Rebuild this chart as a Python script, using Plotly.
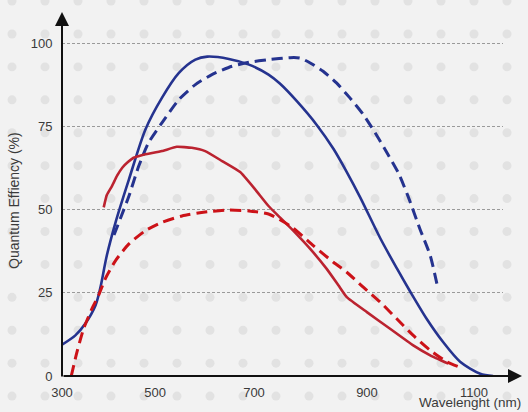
import plotly.graph_objects as go

# ---------------- data ----------------
blue_solid_x = [300, 326, 345, 365, 374, 387, 404, 430, 462, 494, 527, 559, 582, 624, 663, 701,
                723, 756, 795, 827, 853, 879, 918, 950, 976, 1008, 1040, 1073, 1112, 1137]
blue_solid_y = [9.4, 12.2, 15.7, 21.2, 26.2, 36.2, 46.2, 59.1, 74.1, 83.6, 91.1, 95.1, 96.0, 95.3, 93.6, 90.6,
                87.9, 82.6, 75.4, 68.3, 61.3, 53.7, 41.4, 32.4, 25.4, 17.2, 10.2, 4.3, 0.7, 0.0]

blue_dash_x = [401, 413, 430, 449, 468, 494, 527, 559, 591, 630, 663, 701, 743, 762, 782, 807,
               833, 859, 885, 908, 931, 953, 972, 995, 1015, 1028]
blue_dash_y = [42.4, 47.2, 54.1, 63.1, 70.1, 76.1, 83.1, 87.6, 90.6, 93.1, 94.3, 95.1, 95.7, 95.6, 94.1, 91.6,
               88.1, 83.6, 78.6, 73.1, 67.1, 61.1, 54.0, 44.2, 36.2, 27.7]

red_solid_x = [381, 387, 397, 407, 417, 428, 439, 453, 468, 494, 523, 552, 578, 611, 646, 675, 701, 723,
               749, 782, 814, 837, 853, 892, 937, 982, 1015, 1050]
red_solid_y = [50.7, 54.4, 57.1, 60.2, 62.6, 64.3, 65.6, 66.3, 66.8, 67.6, 68.9, 68.6, 67.6, 64.6, 61.3,
               56.1, 51.1, 47.7, 43.7, 38.2, 32.2, 27.2, 23.7, 19.2, 14.2, 9.2, 6.2, 3.7]

red_dash_x = [318, 329, 342, 358, 371, 384, 404, 430, 462, 494, 533, 578, 624, 663, 701, 747,
              788, 827, 853, 885, 918, 950, 982, 1015, 1047, 1070]
red_dash_y = [0.0, 7.2, 14.2, 20.2, 24.2, 29.2, 34.7, 39.7, 43.7, 46.2, 48.1, 49.3, 49.9, 49.6, 48.7, 44.7,
              39.2, 34.2, 31.2, 26.7, 22.2, 17.2, 12.2, 7.7, 4.3, 2.8]

x_tick_labels = ["300", "500", "700", "900", "1100"]
x_tick_positions = [300, 480.6, 672.8, 892.2, 1100]
y_tick_values = [0, 25, 50, 75, 100]

x_title = "Wavelenght (nm)"
y_title = "Quantum Effiency (%)"

# ---------------- styling / layout ----------------
W, H = 528, 412
ML, MR, MT, MB = 62, 25, 12, 34
PW, PH = W - ML - MR, H - MT - MB
X_RANGE = [300, 300 + PW / 0.515]
Y_RANGE = [0, PH / 3.345]

FONT = "Liberation Sans, Arial, sans-serif"
TXT = "#3a3a3a"
BLUE = "#25338f"
RED_SOLID = "#bb2330"
RED_DASH = "#cc1218"

fig = go.Figure()

fig.add_trace(go.Scatter(x=blue_solid_x, y=blue_solid_y, mode="lines",
                         line=dict(color=BLUE, width=2.6, shape="spline", smoothing=0.8),
                         hoverinfo="skip", cliponaxis=False))
fig.add_trace(go.Scatter(x=blue_dash_x, y=blue_dash_y, mode="lines",
                         line=dict(color=BLUE, width=3, shape="spline", smoothing=0.6, dash="11px,6px"),
                         hoverinfo="skip", cliponaxis=False))
fig.add_trace(go.Scatter(x=red_solid_x, y=red_solid_y, mode="lines",
                         line=dict(color=RED_SOLID, width=2.6, shape="spline", smoothing=0.4),
                         hoverinfo="skip", cliponaxis=False))
fig.add_trace(go.Scatter(x=red_dash_x, y=red_dash_y, mode="lines",
                         line=dict(color=RED_DASH, width=3, shape="spline", smoothing=0.6, dash="11px,6px"),
                         hoverinfo="skip", cliponaxis=False))

# background dot pattern (decoration, paper coordinates)
shapes = []
r = 4.5
for i in range(17):
    px = 12 + 33 * i
    for j in range(14):
        py = 1 + 33.1 * j
        shapes.append(dict(
            type="circle", xref="paper", yref="paper", layer="below",
            x0=(px - r - ML) / PW, x1=(px + r - ML) / PW,
            y0=(H - MB - (py + r)) / PH, y1=(H - MB - (py - r)) / PH,
            fillcolor="#e2e2e2", line=dict(width=0)))

annotations = [
    # y axis arrow
    dict(xref="paper", yref="paper", x=0, y=1, ax=0, ay=PH, axref="pixel", ayref="pixel",
         text="", showarrow=True, arrowhead=2, arrowsize=1.4, arrowwidth=2, arrowcolor="#111111",
         standoff=0, startstandoff=0),
    # x axis arrow
    dict(xref="paper", yref="paper", x=(522 - ML) / PW, y=0, ax=-(522 - ML), ay=0,
         axref="pixel", ayref="pixel",
         text="", showarrow=True, arrowhead=2, arrowsize=1.4, arrowwidth=2, arrowcolor="#111111",
         standoff=0, startstandoff=0),
    dict(xref="paper", yref="paper", x=(469.5 - ML) / PW, y=(H - MB - 405) / PH,
         xanchor="center", yanchor="middle", text=x_title, showarrow=False,
         font=dict(family=FONT, size=13.5, color=TXT)),
    dict(xref="paper", yref="paper", x=(14 - ML) / PW, y=(H - MB - 202) / PH,
         xanchor="center", yanchor="middle", text=y_title, showarrow=False, textangle=-90,
         font=dict(family=FONT, size=14, color=TXT)),
]

fig.update_layout(
    width=W, height=H,
    margin=dict(l=ML, r=MR, t=MT, b=MB, pad=0),
    paper_bgcolor="#f2f2f2",
    plot_bgcolor="rgba(0,0,0,0)",
    showlegend=False,
    shapes=shapes,
    annotations=annotations,
    font=dict(family=FONT, size=13, color=TXT),
    xaxis=dict(range=X_RANGE, tickmode="array", tickvals=x_tick_positions, ticktext=x_tick_labels,
               showgrid=False, zeroline=False, showline=False,
               ticks="outside", ticklen=4, tickcolor="rgba(0,0,0,0)",
               tickfont=dict(family=FONT, size=13, color=TXT), fixedrange=True),
    yaxis=dict(range=Y_RANGE, tickmode="array", tickvals=y_tick_values,
               showgrid=True, gridcolor="#9a9a9a", gridwidth=1, griddash="3px,2px",
               zeroline=False, showline=False,
               ticks="outside", ticklen=6, tickcolor="rgba(0,0,0,0)",
               tickfont=dict(family=FONT, size=13, color=TXT), fixedrange=True),
)

fig.write_html(
    "out.html",
    config={"displayModeBar": False},
    post_script="document.body.style.margin='0';document.body.style.overflow='hidden';",
)
